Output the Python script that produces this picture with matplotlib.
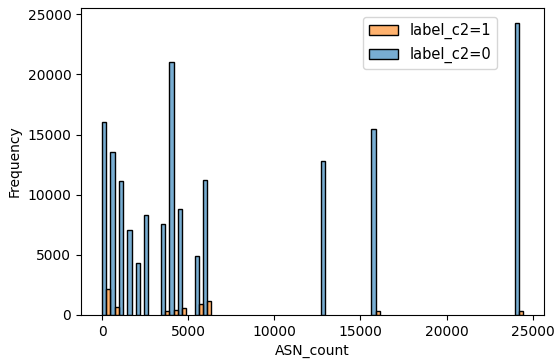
import matplotlib
matplotlib.use('Agg')
import matplotlib.pyplot as plt
import numpy as np
from matplotlib.colors import to_rgba

# histogram of ASN_count, 50 equal bins over [0, 24437]
bin_width = 24437 / 50

# label_c2 = 0
bins_c0 = [0, 1, 2, 3, 4, 5, 7, 8, 9, 11, 12, 26, 32, 49]
counts_c0 = [16000, 13550, 11150, 7100, 4300, 8300, 7550, 21050, 8800, 4900, 11200, 12800, 15500, 24300]

# label_c2 = 1
bins_c1 = [0, 1, 7, 8, 9, 11, 12, 32, 49]
counts_c1 = [2200, 650, 330, 400, 560, 880, 1150, 320, 320]

fig = plt.figure(figsize=(5.55, 3.61), dpi=100)
ax = fig.add_axes([81 / 555, 1 - 315 / 361, (544 - 81) / 555, (315 - 8) / 361])

half = bin_width / 2
x0 = np.array(bins_c0) * bin_width
x1 = np.array(bins_c1) * bin_width + half

alpha = 0.6
b0 = ax.bar(x0, counts_c0, width=half, align='edge', color=to_rgba('#1f77b4', alpha),
            edgecolor='black', linewidth=1.0, label='label_c2=0')
b1 = ax.bar(x1, counts_c1, width=half, align='edge', color=to_rgba('#ff7f0e', alpha),
            edgecolor='black', linewidth=1.0, label='label_c2=1')

ax.set_xlim(-0.05 * 50 * bin_width, 1.05 * 50 * bin_width)
ax.set_ylim(0, 24300 * 1.05)
ax.set_xlabel('ASN_count')
ax.set_ylabel('Frequency')
ax.legend(handles=[b1, b0], loc='upper right', bbox_to_anchor=(0.915, 0.993), fontsize=10.5)

fig.savefig('out.png', dpi=100)
